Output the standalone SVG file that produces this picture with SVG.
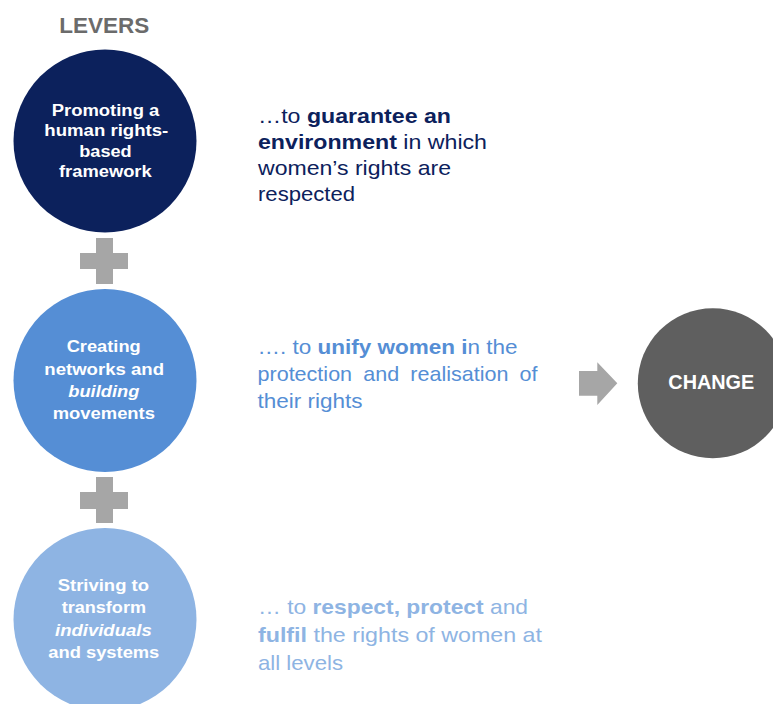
<svg xmlns="http://www.w3.org/2000/svg" width="773" height="704" viewBox="0 0 773 704">
<style>
text{font-family:"Liberation Sans",Arial,sans-serif}
.lbl{font-size:16px;font-weight:bold;fill:#fff}
.it{font-style:italic}
.body{font-size:21px}
.b{font-weight:bold}
.c1{fill:#0C215C}
.c2{fill:#558ED5}
.c3{fill:#8EB4E3}
.gray{fill:#A6A6A6}
</style>
<rect width="773" height="704" fill="#fff"/>
<text x="59.3" y="32.7" font-size="22" font-weight="bold" fill="#6B6B6B" textLength="90" lengthAdjust="spacingAndGlyphs">LEVERS</text>
<g id="connectors">
<path class="gray" d="M96 238h17v15h15v16h-15v15h-17v-15h-16v-16h16z"/>
<path class="gray" d="M96 477h17v15h15v17h-15v14h-17v-14h-16v-17h16z"/>
<polygon class="gray" points="579,371 597.3,371 597.3,362.3 617.3,383.3 597.3,405 597.3,395.7 579,395.7"/>
</g>
<g id="node-promoting">
<circle class="c1" cx="105" cy="141" r="91.5"/>
<text class="lbl" x="51.7" y="115.5" textLength="107.6" lengthAdjust="spacingAndGlyphs">Promoting a</text>
<text class="lbl" x="44.3" y="136" textLength="124" lengthAdjust="spacingAndGlyphs">human rights-</text>
<text class="lbl" x="79.3" y="156.5" textLength="52.4" lengthAdjust="spacingAndGlyphs">based</text>
<text class="lbl" x="59" y="177" textLength="92.7" lengthAdjust="spacingAndGlyphs">framework</text>
</g>
<g id="node-creating">
<circle class="c2" cx="105" cy="380.5" r="91.5"/>
<text class="lbl" x="66.7" y="352" textLength="74" lengthAdjust="spacingAndGlyphs">Creating</text>
<text class="lbl" x="44.3" y="374.5" textLength="119.7" lengthAdjust="spacingAndGlyphs">networks and</text>
<text class="lbl it" x="68.3" y="396.5" textLength="71" lengthAdjust="spacingAndGlyphs">building</text>
<text class="lbl" x="52.7" y="418.5" textLength="102.3" lengthAdjust="spacingAndGlyphs">movements</text>
</g>
<g id="node-striving">
<circle class="c3" cx="105" cy="619.5" r="91.5"/>
<text class="lbl" x="57.7" y="591" textLength="91.3" lengthAdjust="spacingAndGlyphs">Striving to</text>
<text class="lbl" x="61.7" y="613.3" textLength="84.3" lengthAdjust="spacingAndGlyphs">transform</text>
<text class="lbl it" x="55" y="635.5" textLength="96.7" lengthAdjust="spacingAndGlyphs">individuals</text>
<text class="lbl" x="48.3" y="657.7" textLength="111" lengthAdjust="spacingAndGlyphs">and systems</text>
</g>
<g id="node-change">
<circle fill="#5F5F5F" cx="712.8" cy="383.3" r="75"/>
<text x="668.3" y="389.3" font-size="19.6" font-weight="bold" fill="#fff" textLength="86" lengthAdjust="spacingAndGlyphs">CHANGE</text>
</g>
<g id="desc-1" class="c1">
<text class="body" x="258" y="122.5" textLength="193" lengthAdjust="spacingAndGlyphs">…to <tspan class="b">guarantee an</tspan></text>
<text class="body" x="258" y="149" textLength="229" lengthAdjust="spacingAndGlyphs"><tspan class="b">environment</tspan> in which</text>
<text class="body" x="258" y="175" textLength="193" lengthAdjust="spacingAndGlyphs">women’s rights are</text>
<text class="body" x="258" y="201" textLength="97" lengthAdjust="spacingAndGlyphs">respected</text>
</g>
<g id="desc-2" class="c2">
<text class="body" x="257.5" y="353.5" textLength="260" lengthAdjust="spacingAndGlyphs">…. to <tspan class="b">unify women i</tspan>n the</text>
<text class="body" x="257.5" y="381" textLength="280" lengthAdjust="spacingAndGlyphs" word-spacing="5">protection and realisation of</text>
<text class="body" x="257.5" y="408" textLength="105" lengthAdjust="spacingAndGlyphs">their rights</text>
</g>
<g id="desc-3" class="c3">
<text class="body" x="258" y="614" textLength="270" lengthAdjust="spacingAndGlyphs">… to <tspan class="b">respect, protect</tspan> and</text>
<text class="body" x="258" y="642" textLength="284" lengthAdjust="spacingAndGlyphs"><tspan class="b">fulfil</tspan> the rights of women at</text>
<text class="body" x="258" y="670" textLength="85" lengthAdjust="spacingAndGlyphs">all levels</text>
</g>
</svg>
